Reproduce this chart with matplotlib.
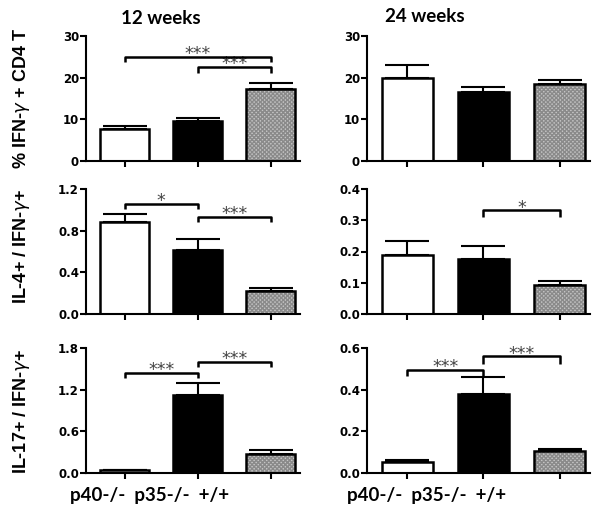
import matplotlib
matplotlib.use('Agg')
import matplotlib.pyplot as plt
import numpy as np

groups = ['p40-/-', 'p35-/-', '+/+']

# % IFN-g+ CD4 T
ifng_12 = [7.8, 9.5, 17.3]
ifng_12_err = [0.5, 0.8, 1.3]
ifng_24 = [20.0, 16.6, 18.4]
ifng_24_err = [3.0, 1.1, 1.1]

# IL-4+ / IFN-g+
il4_12 = [0.88, 0.61, 0.22]
il4_12_err = [0.08, 0.11, 0.025]
il4_24 = [0.19, 0.175, 0.093]
il4_24_err = [0.045, 0.042, 0.012]

# IL-17+ / IFN-g+
il17_12 = [0.04, 1.13, 0.28]
il17_12_err = [0.01, 0.17, 0.05]
il17_24 = [0.055, 0.38, 0.105]
il17_24_err = [0.006, 0.08, 0.01]

# significance brackets: (bar a, bar b, height, drop, stars)
sig_ifng_12 = [(0, 2, 25.0, 1.2, '***'), (1, 2, 22.6, 1.5, '***')]
sig_ifng_24 = []
sig_il4_12 = [(0, 1, 1.06, 0.05, '*'), (1, 2, 0.93, 0.05, '***')]
sig_il4_24 = [(1, 2, 0.332, 0.022, '*')]
sig_il17_12 = [(0, 1, 1.44, 0.07, '***'), (1, 2, 1.60, 0.08, '***')]
sig_il17_24 = [(0, 1, 0.494, 0.03, '***'), (1, 2, 0.56, 0.035, '***')]

ylabels = [r'% IFN-$\gamma$ + CD4 T', r'IL-4+ / IFN-$\gamma$+', r'IL-17+ / IFN-$\gamma$+']
titles = ['12 weeks', '24 weeks']

tick_font = {'family': 'DejaVu Sans', 'weight': 'bold', 'size': 8.5}


def draw_panel(ax, means, errs, ymax, step, brackets, fmt):
    x = np.arange(len(means))
    w = 0.67
    # error bars (upper only)
    ax.errorbar(x, means, yerr=[np.zeros(len(errs)), errs], fmt='none',
                ecolor='black', elinewidth=1.5, capsize=16, capthick=1.5, zorder=1)
    ax.bar(x[0], means[0], w, color='white', edgecolor='black', linewidth=1.8, zorder=2)
    ax.bar(x[1], means[1], w, color='black', edgecolor='black', linewidth=1.8, zorder=2)
    ax.bar(x[2], means[2], w, color='#c4c4c4', edgecolor='#8a8a8a', hatch='xxxxxxxx',
           linewidth=0, zorder=2)
    ax.bar(x[2], means[2], w, color='none', edgecolor='black', linewidth=1.8, zorder=3)

    for a, b, y, d, s in brackets:
        ax.plot([a, a, b, b], [y - d, y, y, y - d], color='black', lw=1.8,
                solid_capstyle='butt', zorder=4)
        ax.text((a + b) / 2, y - 0.05 * ymax, s, ha='center', va='bottom',
                fontsize=12.5, color='#444444', family='DejaVu Sans')

    ax.set_xlim(-0.53, 2.4)
    ax.set_ylim(0, ymax)
    ax.set_yticks(np.arange(0, ymax + step / 2, step))
    ax.set_yticklabels([fmt.format(v) for v in np.arange(0, ymax + step / 2, step)],
                       fontdict=tick_font)
    ax.set_xticks(x)
    ax.set_xticklabels([])
    ax.spines['top'].set_visible(False)
    ax.spines['right'].set_visible(False)
    ax.spines['left'].set_linewidth(1.5)
    ax.spines['bottom'].set_linewidth(1.5)
    ax.tick_params(direction='out', width=1.5, length=4, pad=1)


fig = plt.figure(figsize=(6.01, 5.13), dpi=100)

lefts = [86 / 601, 367 / 601]
widths = [214 / 601, 223 / 601]
bottoms = [1 - 161 / 513, 1 - 314 / 513, 1 - 473 / 513]
h = 125 / 513

panels = [
    [(ifng_12, ifng_12_err, 30, 10, sig_ifng_12, '{:.0f}'),
     (ifng_24, ifng_24_err, 30, 10, sig_ifng_24, '{:.0f}')],
    [(il4_12, il4_12_err, 1.2, 0.4, sig_il4_12, '{:.1f}'),
     (il4_24, il4_24_err, 0.4, 0.1, sig_il4_24, '{:.1f}')],
    [(il17_12, il17_12_err, 1.8, 0.6, sig_il17_12, '{:.1f}'),
     (il17_24, il17_24_err, 0.6, 0.2, sig_il17_24, '{:.1f}')],
]

for r in range(3):
    for c in range(2):
        ax = fig.add_axes([lefts[c], bottoms[r], widths[c], h])
        m, e, ymax, step, br, fmt = panels[r][c]
        draw_panel(ax, m, e, ymax, step, br, fmt)

# y labels
label_y = [1 - 98 / 513, 1 - 247 / 513, 1 - 412 / 513]
for r in range(3):
    fig.text(22 / 601, label_y[r], ylabels[r], rotation=90, ha='center', va='center',
             fontsize=13, fontweight='bold', family='Liberation Sans')

# column titles
fig.text(161 / 601, 1 - 18 / 513, titles[0], ha='center', va='center',
         fontsize=13.5, fontweight='bold', family='Lato')
fig.text(425 / 601, 1 - 17 / 513, titles[1], ha='center', va='center',
         fontsize=13.5, fontweight='bold', family='Lato')

# group labels under bottom row
xlab = '  '.join(groups)
fig.text(150 / 601, 1 - 495 / 513, xlab, ha='center', va='center',
         fontsize=13.5, fontweight='bold', family='Lato')
fig.text(427 / 601, 1 - 495 / 513, xlab, ha='center', va='center',
         fontsize=13.5, fontweight='bold', family='Lato')

plt.savefig('out.png', dpi=100)
